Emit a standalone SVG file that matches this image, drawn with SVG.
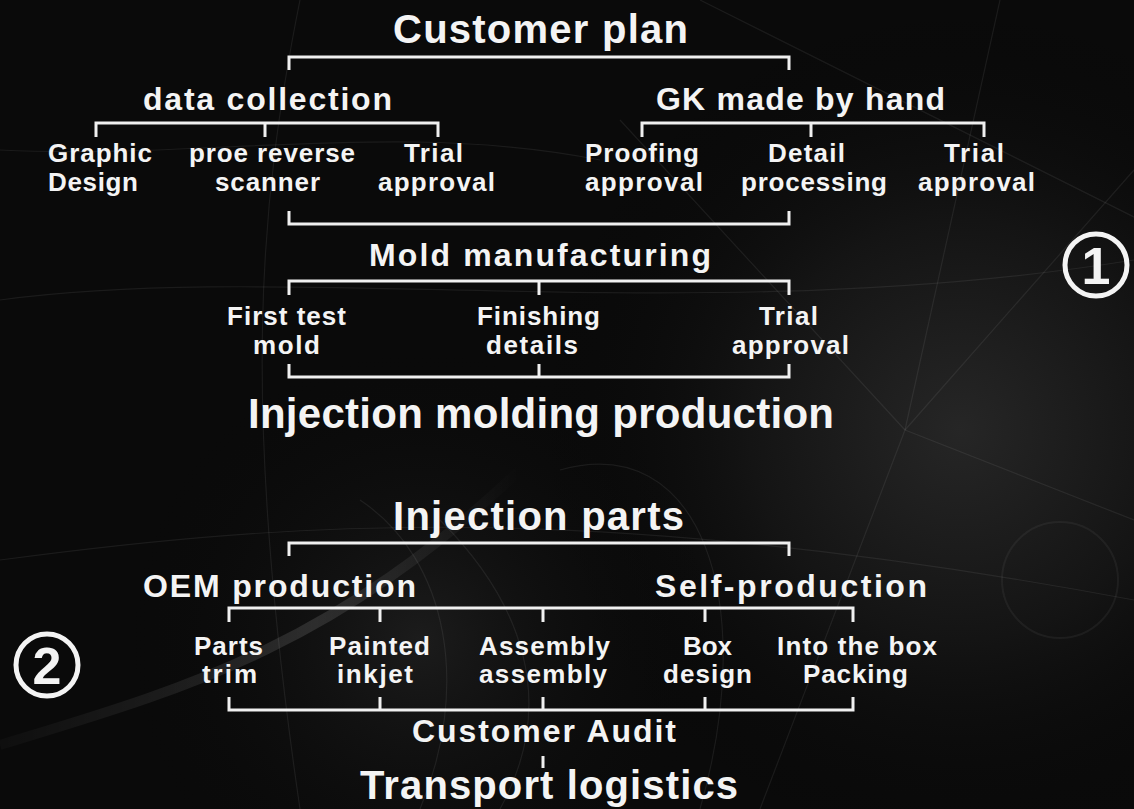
<svg xmlns="http://www.w3.org/2000/svg" width="1134" height="809" viewBox="0 0 1134 809">
<defs>
<radialGradient id="bg1" cx="960" cy="430" r="420" gradientUnits="userSpaceOnUse">
<stop offset="0" stop-color="#262626"/>
<stop offset="0.5" stop-color="#141414"/>
<stop offset="1" stop-color="#070707" stop-opacity="0"/>
</radialGradient>
<radialGradient id="bg2" cx="420" cy="640" r="300" gradientUnits="userSpaceOnUse">
<stop offset="0" stop-color="#1c1c1c"/>
<stop offset="1" stop-color="#080808" stop-opacity="0"/>
</radialGradient>
<linearGradient id="streak" x1="0" y1="0" x2="1" y2="0">
<stop offset="0" stop-color="#ffffff" stop-opacity="0.02"/>
<stop offset="0.6" stop-color="#ffffff" stop-opacity="0.12"/>
<stop offset="1" stop-color="#ffffff" stop-opacity="0"/>
</linearGradient>
<style>
text{font-family:"Liberation Sans",Arial,"Noto Sans",sans-serif;font-weight:bold;fill:#f4f4f4;text-anchor:middle}
.big{font-size:40px}
.xl{font-size:42px}
.mid{font-size:32px}
.sm{font-size:26px}
.st{text-anchor:start}
.ln{fill:none;stroke:#f0f0f0;stroke-width:3;stroke-linecap:butt;stroke-linejoin:miter}
.deco{fill:none;stroke:#ffffff;stroke-opacity:0.07;stroke-width:1.2}
.ring{fill:none;stroke:#f4f4f4;stroke-width:5}
.num{font-size:52px}
</style>
</defs>
<rect width="1134" height="809" fill="#0a0a0a"/>
<rect width="1134" height="809" fill="url(#bg1)"/>
<rect width="1134" height="809" fill="url(#bg2)"/>
<g id="background">
<path d="M0 745 C180 690 330 650 520 470" fill="none" stroke="url(#streak)" stroke-width="10"/>
<path class="deco" d="M0 300 C300 260 700 330 1134 260"/>
<path class="deco" d="M0 560 C300 520 600 500 1134 600"/>
<path class="deco" d="M905 430 L1134 170"/>
<path class="deco" d="M905 430 L1134 520"/>
<path class="deco" d="M905 430 L760 809"/>
<path class="deco" d="M905 430 L620 120"/>
<path class="deco" d="M905 430 L1000 0"/>
<path class="deco" d="M1180 240 L700 0"/>
<path class="deco" d="M440 520 C520 600 560 700 500 809"/>
<path class="deco" d="M360 500 C450 560 470 690 420 809"/>
<path class="deco" d="M300 0 C260 200 240 400 300 809"/>
<path class="deco" d="M560 470 C700 430 760 600 700 809"/>
<path class="deco" d="M0 150 C200 160 400 120 600 160"/>
<circle cx="1060" cy="580" r="58" fill="none" stroke="#ffffff" stroke-opacity="0.05" stroke-width="2"/>
</g>
<g id="connectors">
<path class="ln" d="M289 70 V57 H789 V70"/>
<path class="ln" d="M96 137 V123 H438 V137 M265 123 V137"/>
<path class="ln" d="M642 137 V123 H984 V137 M811 123 V137"/>
<path class="ln" d="M289 211 V224 H789 V211"/>
<path class="ln" d="M289 295 V281 H789 V295 M539 281 V295"/>
<path class="ln" d="M289 364 V377 H789 V364 M539 364 V377"/>
<path class="ln" d="M289 556 V543 H789 V556"/>
<path class="ln" d="M229 622 V608 H853 V622 M380 608 V622 M543 608 V622 M705 608 V622"/>
<path class="ln" d="M229 697 V710 H853 V697 M380 697 V710 M543 697 V710 M705 697 V710"/>
<path class="ln" d="M543 756 V768"/>
</g>
<g id="n-customer-plan"><text class="big" x="540.5" y="43" textLength="295" lengthAdjust="spacing">Customer plan</text></g>
<g id="n-data-collection"><text class="mid" x="267.5" y="110" textLength="249" lengthAdjust="spacing">data collection</text></g>
<g id="n-gk-made-by-hand"><text class="mid" x="800.5" y="110" textLength="289" lengthAdjust="spacing">GK made by hand</text></g>
<g id="n-graphic-design">
<text class="sm st" x="48" y="162" textLength="104" lengthAdjust="spacing">Graphic</text>
<text class="sm st" x="48" y="191" textLength="90" lengthAdjust="spacing">Design</text>
</g>
<g id="n-proe-reverse">
<text class="sm" x="272" y="162" textLength="166" lengthAdjust="spacing">proe reverse</text>
<text class="sm" x="267.5" y="191" textLength="105" lengthAdjust="spacing">scanner</text>
</g>
<g id="n-trial-approval-1">
<text class="sm" x="433.5" y="162" textLength="59" lengthAdjust="spacing">Trial</text>
<text class="sm" x="436.5" y="191" textLength="117" lengthAdjust="spacing">approval</text>
</g>
<g id="n-proofing-approval">
<text class="sm" x="642" y="162" textLength="114" lengthAdjust="spacing">Proofing</text>
<text class="sm" x="644" y="191" textLength="118" lengthAdjust="spacing">approval</text>
</g>
<g id="n-detail-processing">
<text class="sm" x="806.5" y="162" textLength="77" lengthAdjust="spacing">Detail</text>
<text class="sm" x="814" y="191" textLength="146" lengthAdjust="spacing">processing</text>
</g>
<g id="n-trial-approval-2">
<text class="sm" x="974" y="162" textLength="60" lengthAdjust="spacing">Trial</text>
<text class="sm" x="976.5" y="191" textLength="117" lengthAdjust="spacing">approval</text>
</g>
<g id="n-mold-manufacturing"><text class="mid" x="540" y="266" textLength="342" lengthAdjust="spacing">Mold manufacturing</text></g>
<g id="n-first-test-mold">
<text class="sm" x="286.5" y="325" textLength="119" lengthAdjust="spacing">First test</text>
<text class="sm" x="286.5" y="354" textLength="67" lengthAdjust="spacing">mold</text>
</g>
<g id="n-finishing-details">
<text class="sm" x="538.5" y="325" textLength="123" lengthAdjust="spacing">Finishing</text>
<text class="sm" x="532" y="354" textLength="92" lengthAdjust="spacing">details</text>
</g>
<g id="n-trial-approval-3">
<text class="sm" x="788.5" y="325" textLength="59" lengthAdjust="spacing">Trial</text>
<text class="sm" x="790.5" y="354" textLength="117" lengthAdjust="spacing">approval</text>
</g>
<g id="n-injection-molding-production"><text class="xl" x="541" y="428" textLength="586" lengthAdjust="spacing">Injection molding production</text></g>
<g id="n-step-1">
<circle class="ring" cx="1096" cy="265" r="31"/>
<text class="num" x="1096" y="284">1</text>
</g>
<g id="n-injection-parts"><text class="big" x="538.5" y="530" textLength="291" lengthAdjust="spacing">Injection parts</text></g>
<g id="n-oem-production"><text class="mid" x="279.5" y="597" textLength="273" lengthAdjust="spacing">OEM production</text></g>
<g id="n-self-production"><text class="mid" x="791" y="597" textLength="272" lengthAdjust="spacing">Self-production</text></g>
<g id="n-parts-trim">
<text class="sm" x="228.5" y="655" textLength="69" lengthAdjust="spacing">Parts</text>
<text class="sm" x="229.5" y="683" textLength="55" lengthAdjust="spacing">trim</text>
</g>
<g id="n-painted-inkjet">
<text class="sm" x="379.5" y="655" textLength="101" lengthAdjust="spacing">Painted</text>
<text class="sm" x="375" y="683" textLength="76" lengthAdjust="spacing">inkjet</text>
</g>
<g id="n-assembly">
<text class="sm" x="544.5" y="655" textLength="131" lengthAdjust="spacing">Assembly</text>
<text class="sm" x="543" y="683" textLength="128" lengthAdjust="spacing">assembly</text>
</g>
<g id="n-box-design">
<text class="sm" x="707.5" y="655" textLength="49" lengthAdjust="spacing">Box</text>
<text class="sm" x="707.5" y="683" textLength="89" lengthAdjust="spacing">design</text>
</g>
<g id="n-into-the-box">
<text class="sm" x="857" y="655" textLength="160" lengthAdjust="spacing">Into the box</text>
<text class="sm" x="855.5" y="683" textLength="105" lengthAdjust="spacing">Packing</text>
</g>
<g id="n-customer-audit"><text class="mid" x="544" y="742" textLength="264" lengthAdjust="spacing">Customer Audit</text></g>
<g id="n-transport-logistics"><text class="big" x="549" y="799" textLength="378" lengthAdjust="spacing">Transport logistics</text></g>
<g id="n-step-2">
<circle class="ring" cx="47" cy="665" r="31"/>
<text class="num" x="47" y="684">2</text>
</g>
</svg>
